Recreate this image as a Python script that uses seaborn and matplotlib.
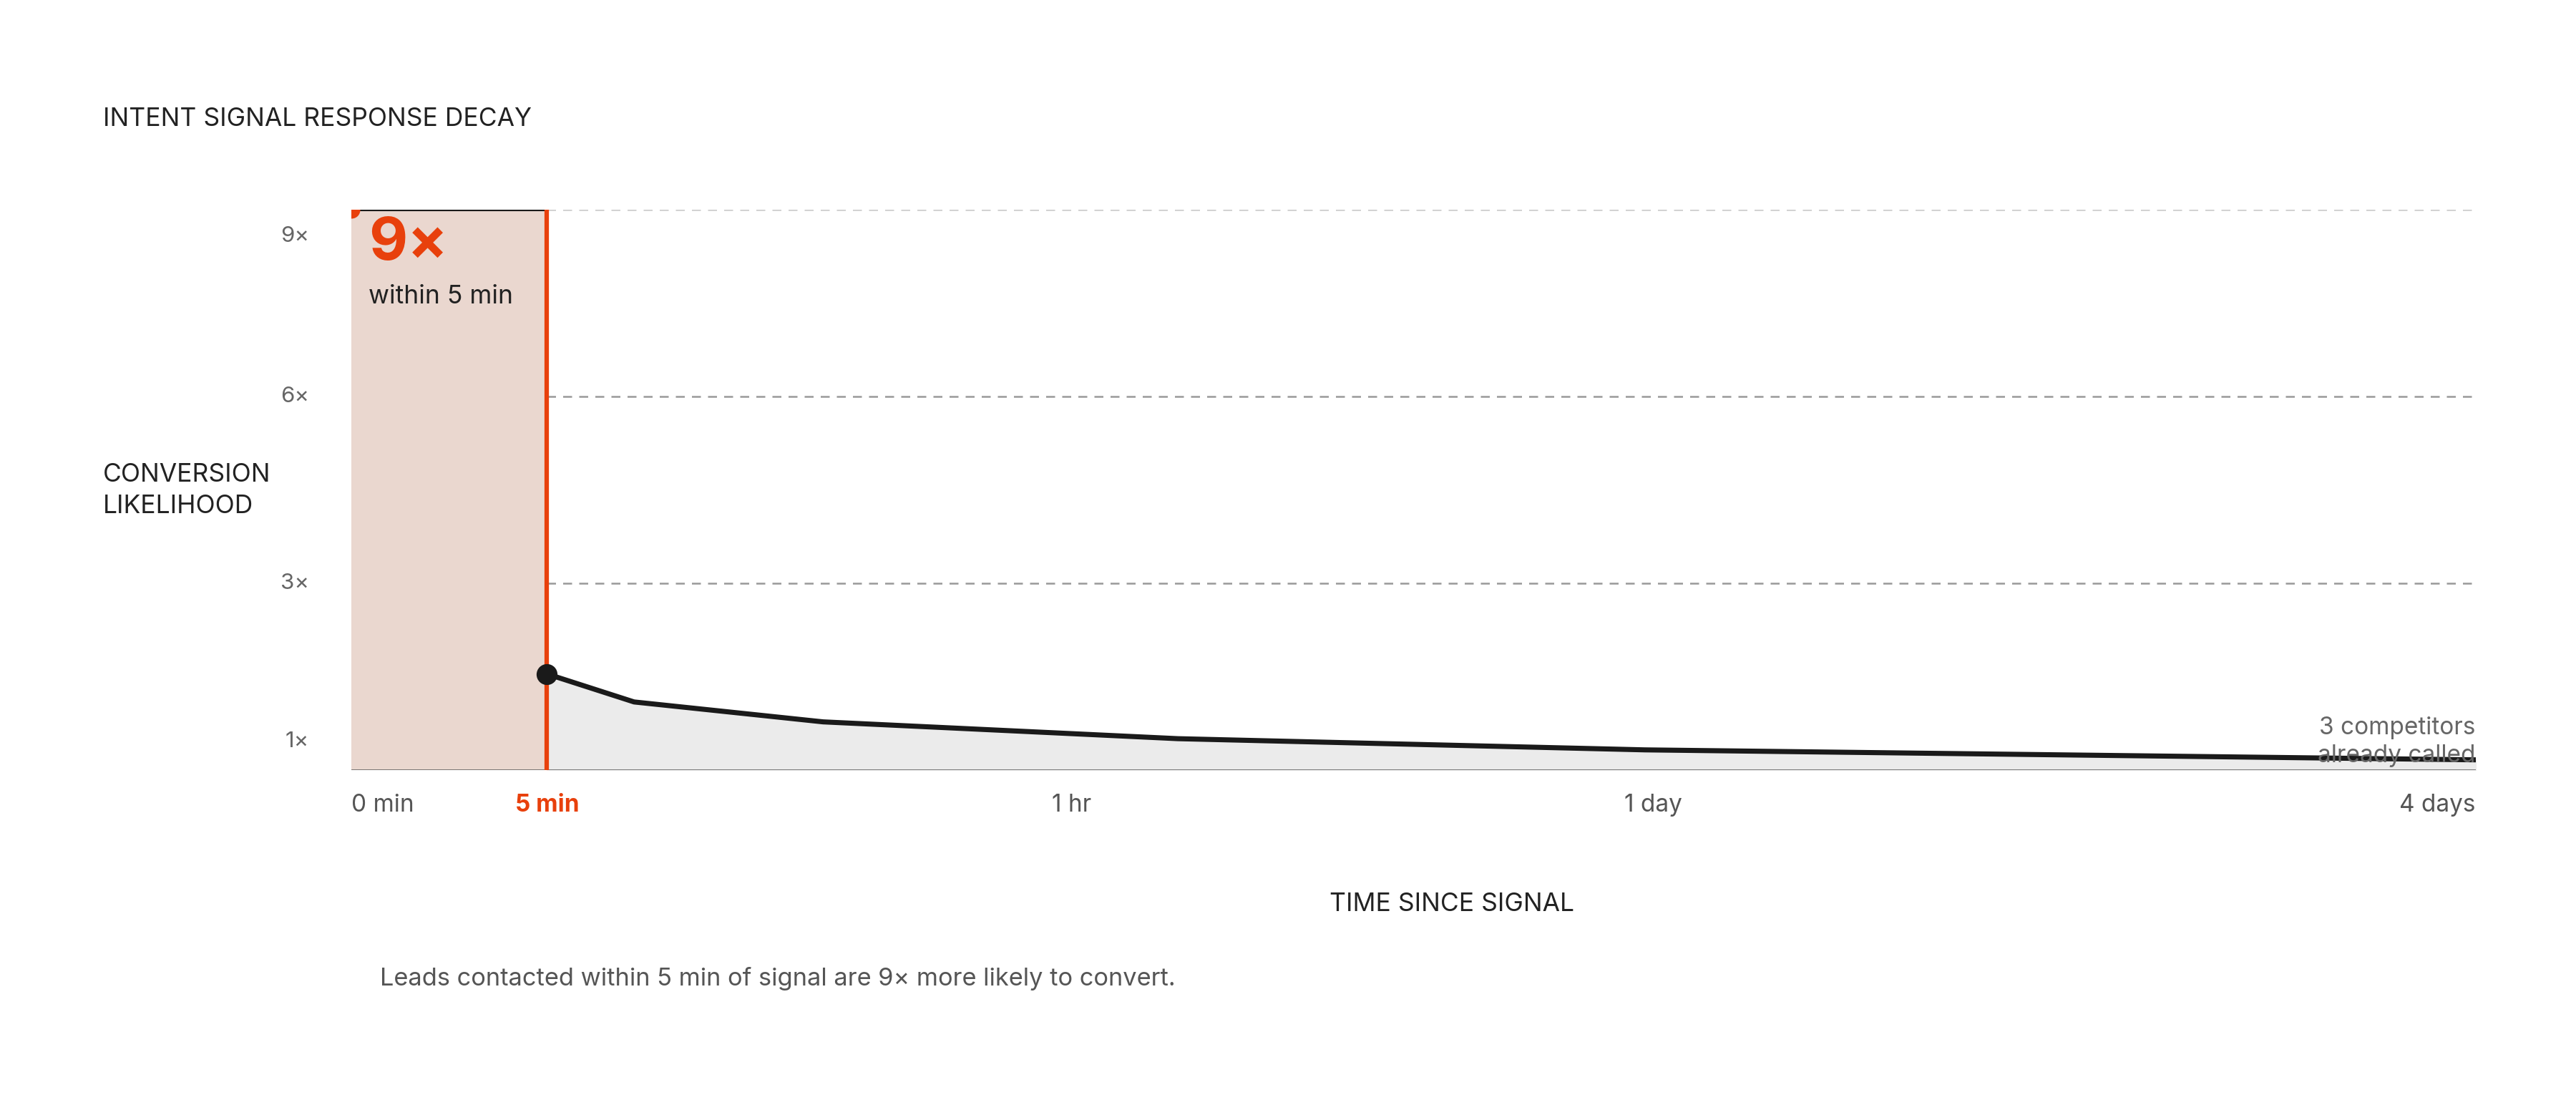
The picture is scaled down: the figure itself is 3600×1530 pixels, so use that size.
import matplotlib
matplotlib.use("Agg")
import matplotlib.pyplot as plt
import seaborn as sns
import pandas as pd

sns.set_theme(style="white")
plt.rcParams['font.family'] = ['Inter', 'DejaVu Sans']

# positions on a compressed time axis (0 = signal, 1 = 4 days)
tick_pos = [0.0, 0.092, 0.339, 0.613, 1.0]
tick_labels = ["0 min", "5 min", "1 hr", "1 day", "4 days"]
curve_x = [0.092, 0.133, 0.222, 0.389, 0.609, 1.0]
curve_y = [1.54, 1.09, 0.77, 0.50, 0.32, 0.16]
peak_value = 9.0
y_grid = [3, 6, 9]
y_labels = {9: "9×", 6: "6×", 3: "3×", 1: "1×"}

RED = "#E8400C"
fig = plt.figure(figsize=(24, 10.2), dpi=150)
ax = fig.add_axes([0.1365, 0.297, 0.8245, 0.5115])
ax.set_xlim(0, 1)
ax.set_ylim(0, 9)

ax.axvspan(0, tick_pos[1], color="#EAD7CF", zorder=0)
ax.fill_between(curve_x, curve_y, 0, color="#EBEBEB", zorder=1)
df = pd.DataFrame({"x": curve_x, "y": curve_y})
sns.lineplot(data=df, x="x", y="y", ax=ax, color="#1a1a1a", lw=3.4, zorder=3)
ax.plot([0, tick_pos[1]], [peak_value, peak_value], color="#1a1a1a", lw=2, zorder=3)
ax.axvline(tick_pos[1], color=RED, lw=3, zorder=4)
ax.scatter([curve_x[0]], [curve_y[0]], s=170, color="#1a1a1a", zorder=5)
ax.scatter([0], [peak_value], s=110, color=RED, zorder=5, clip_on=True)
for g in y_grid:
    ax.axhline(g, color="#999999" if g < 9 else "#cccccc", lw=1.2, ls=(0, (5, 4)), xmin=tick_pos[1], zorder=2)
ax.axhline(0, color="#555555", lw=1.2)

for s in ax.spines.values():
    s.set_visible(False)
ax.set_yticks([])
ax.set_xticks(tick_pos)
ax.set_xticklabels(tick_labels)
ax.tick_params(axis="x", length=0, pad=16, labelsize=16, labelcolor="#555555")
lbls = ax.get_xticklabels()
lbls[0].set_ha("left"); lbls[-1].set_ha("right")
lbls[1].set_color(RED); lbls[1].set_fontweight("bold")
ax.set_xlabel("")
ax.set_ylabel("")

ypos = {9: 8.58, 6: 6.0, 3: 3.0, 1: 0.45}
for v, t in y_labels.items():
    ax.text(-0.02, ypos[v], t, ha="right", va="center", fontsize=15, color="#666666")

ax.text(0.008, 8.45, "9×", color=RED, fontsize=40, fontweight="bold", va="center")
ax.text(0.008, 7.6, "within 5 min", color="#222222", fontsize=17, va="center")
ax.text(1.0, 0.45, "3 competitors\nalready called", ha="right", va="center", fontsize=16,
        color="#666666", linespacing=1.3)

fig.text(0.04, 0.885, "INTENT SIGNAL RESPONSE DECAY", fontsize=17, color="#222222")
fig.text(0.04, 0.552, "CONVERSION\nLIKELIHOOD", fontsize=17, color="#222222", linespacing=1.4, va="center")
fig.text(0.5635, 0.168, "TIME SINCE SIGNAL", fontsize=17, color="#222222", ha="center")
fig.text(0.1475, 0.1, "Leads contacted within 5 min of signal are 9× more likely to convert.",
         fontsize=16.5, color="#555555")

fig.savefig("out.png", dpi=150, facecolor="white")
